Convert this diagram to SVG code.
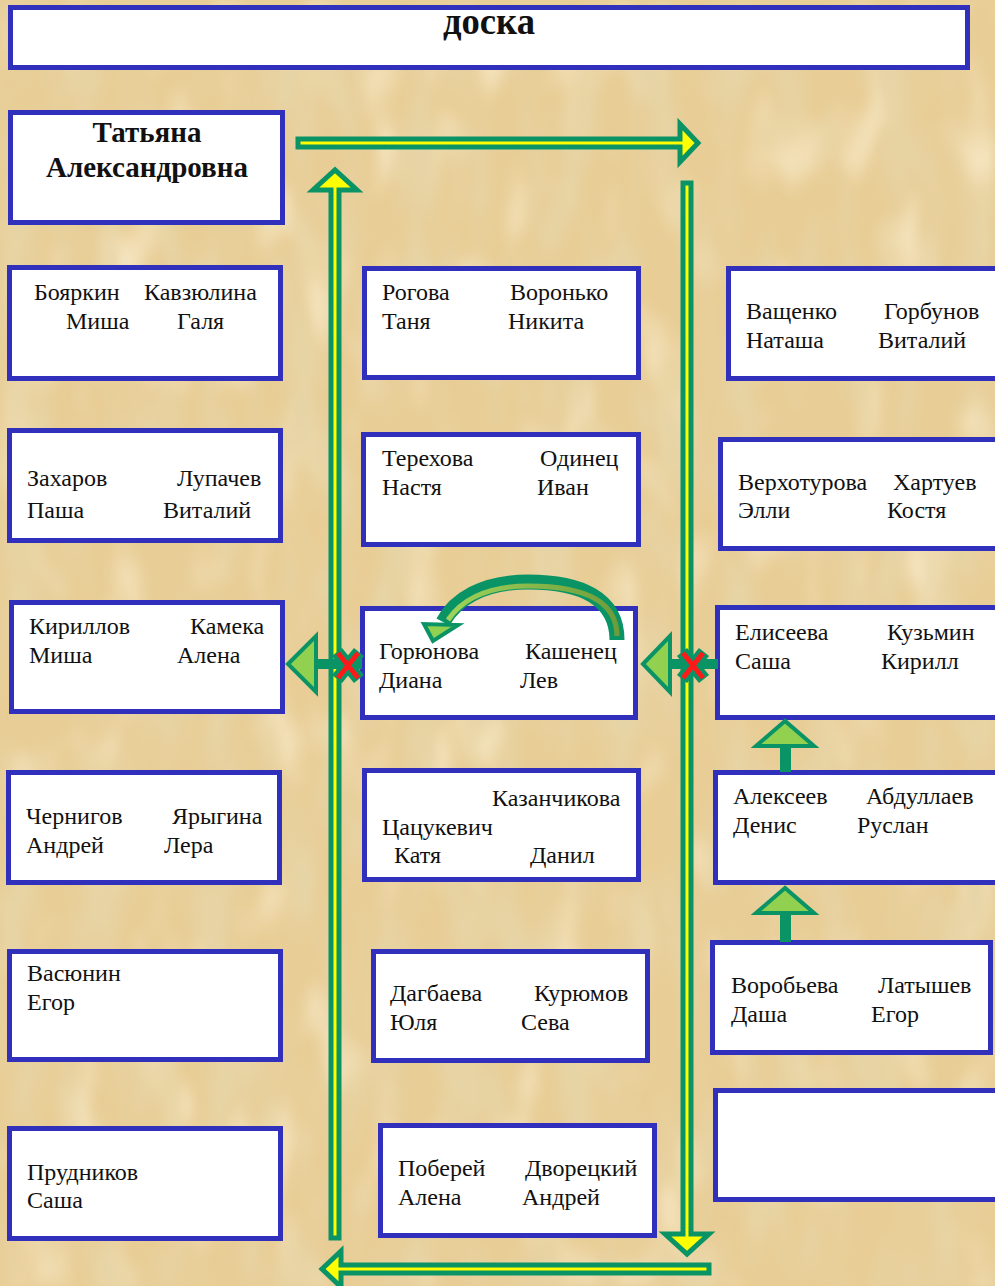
<svg xmlns="http://www.w3.org/2000/svg" width="995" height="1286" viewBox="0 0 995 1286">
  <defs>
    <style>
      .box { fill: #ffffff; stroke: #3030bd; stroke-width: 5; }
      .t { font-family: "Liberation Serif", "Times New Roman", serif; font-size: 24px; fill: #111111; }
      .tb { font-family: "Liberation Serif", "Times New Roman", serif; font-weight: bold; fill: #111111; text-anchor: middle; }
      .flow { fill: #ffff00; stroke: #0a9466; stroke-width: 5; stroke-linejoin: miter; }
      .blk { fill: #92d050; stroke: #0a9466; stroke-width: 4; stroke-linejoin: miter; }
      .stem { fill: #0a9466; }
      .xo { stroke: #0a9466; stroke-width: 13; stroke-linecap: butt; }
      .xr { stroke: #ff1a1a; stroke-width: 5; stroke-linecap: butt; }
    </style>
    <!-- parchment texture: darker blotches and lighter streaks -->
    <filter id="parchDark" x="0" y="0" width="100%" height="100%">
      <feTurbulence type="fractalNoise" baseFrequency="0.025 0.008" numOctaves="3" seed="7" result="n"/>
      <feColorMatrix in="n" type="matrix" values="0 0 0 0 0.80  0 0 0 0 0.66  0 0 0 0 0.38  3 0 0 0 -1.3"/>
      <feGaussianBlur stdDeviation="4"/>
    </filter>
    <filter id="parchLight" x="0" y="0" width="100%" height="100%">
      <feTurbulence type="fractalNoise" baseFrequency="0.02 0.01" numOctaves="2" seed="21" result="n"/>
      <feColorMatrix in="n" type="matrix" values="0 0 0 0 0.96  0 0 0 0 0.86  0 0 0 0 0.64  2.5 0 0 0 -1.35"/>
      <feGaussianBlur stdDeviation="5"/>
    </filter>
    <linearGradient id="curveFill" x1="0" y1="0" x2="1" y2="0">
      <stop offset="0" stop-color="#9fd35a"/>
      <stop offset="1" stop-color="#6f9c3a"/>
    </linearGradient>
  </defs>

  <!-- background -->
  <rect x="0" y="0" width="995" height="1286" fill="#e8cd96"/>
  <rect x="0" y="0" width="995" height="1286" filter="url(#parchLight)"/>
  <rect x="0" y="0" width="995" height="1286" filter="url(#parchDark)"/>

  <!-- board -->
  <g id="board">
    <rect class="box" x="10.5" y="7.5" width="957" height="60"/>
    <text class="tb" x="489" y="34" font-size="38" textLength="92" lengthAdjust="spacingAndGlyphs">доска</text>
  </g>

  <!-- teacher -->
  <g id="teacher">
    <rect class="box" x="10.5" y="112.5" width="272" height="110"/>
    <text class="tb" x="147" y="142" font-size="29">Татьяна</text>
    <text class="tb" x="147" y="177" font-size="29">Александровна</text>
  </g>

  <!-- desks, left column -->
  <g id="desk-l1">
    <rect class="box" x="9.5" y="267.5" width="271" height="111"/>
    <text class="t" x="34" y="300">Бояркин</text><text class="t" x="144" y="300">Кавзюлина</text>
    <text class="t" x="66" y="329">Миша</text><text class="t" x="177" y="329">Галя</text>
  </g>
  <g id="desk-l2">
    <rect class="box" x="9.5" y="430.5" width="271" height="110"/>
    <text class="t" x="27" y="486">Захаров</text><text class="t" x="177" y="486">Лупачев</text>
    <text class="t" x="27" y="518">Паша</text><text class="t" x="163" y="518">Виталий</text>
  </g>
  <g id="desk-l3">
    <rect class="box" x="11.5" y="602.5" width="271" height="109"/>
    <text class="t" x="29" y="634">Кириллов</text><text class="t" x="190" y="634">Камека</text>
    <text class="t" x="29" y="663">Миша</text><text class="t" x="177" y="663">Алена</text>
  </g>
  <g id="desk-l4">
    <rect class="box" x="8.5" y="772.5" width="271" height="110"/>
    <text class="t" x="26" y="824">Чернигов</text><text class="t" x="172" y="824">Ярыгина</text>
    <text class="t" x="26" y="853">Андрей</text><text class="t" x="164" y="853">Лера</text>
  </g>
  <g id="desk-l5">
    <rect class="box" x="9.5" y="951.5" width="271" height="108"/>
    <text class="t" x="27" y="981">Васюнин</text>
    <text class="t" x="27" y="1010">Егор</text>
  </g>
  <g id="desk-l6">
    <rect class="box" x="9.5" y="1128.5" width="271" height="110"/>
    <text class="t" x="27" y="1180">Прудников</text>
    <text class="t" x="27" y="1208">Саша</text>
  </g>

  <!-- desks, middle column -->
  <g id="desk-m1">
    <rect class="box" x="364.5" y="268.5" width="274" height="109"/>
    <text class="t" x="382" y="300">Рогова</text><text class="t" x="510" y="300">Воронько</text>
    <text class="t" x="382" y="329">Таня</text><text class="t" x="508" y="329">Никита</text>
  </g>
  <g id="desk-m2">
    <rect class="box" x="363.5" y="434.5" width="275" height="110"/>
    <text class="t" x="382" y="466">Терехова</text><text class="t" x="540" y="466">Одинец</text>
    <text class="t" x="382" y="495">Настя</text><text class="t" x="537" y="495">Иван</text>
  </g>
  <g id="desk-m3">
    <rect class="box" x="362.5" y="608.5" width="273" height="109"/>
    <text class="t" x="379" y="659">Горюнова</text><text class="t" x="525" y="659">Кашенец</text>
    <text class="t" x="379" y="688">Диана</text><text class="t" x="520" y="688">Лев</text>
  </g>
  <g id="desk-m4">
    <rect class="box" x="364.5" y="770.5" width="274" height="109"/>
    <text class="t" x="492" y="806">Казанчикова</text>
    <text class="t" x="382" y="835">Цацукевич</text>
    <text class="t" x="394" y="863">Катя</text><text class="t" x="530" y="863">Данил</text>
  </g>
  <g id="desk-m5">
    <rect class="box" x="373.5" y="951.5" width="274" height="109"/>
    <text class="t" x="390" y="1001">Дагбаева</text><text class="t" x="534" y="1001">Курюмов</text>
    <text class="t" x="390" y="1030">Юля</text><text class="t" x="521" y="1030">Сева</text>
  </g>
  <g id="desk-m6">
    <rect class="box" x="380.5" y="1125.5" width="274" height="110"/>
    <text class="t" x="398" y="1176">Поберей</text><text class="t" x="525" y="1176">Дворецкий</text>
    <text class="t" x="398" y="1205">Алена</text><text class="t" x="522" y="1205">Андрей</text>
  </g>

  <!-- desks, right column -->
  <g id="desk-r1">
    <rect class="box" x="728.5" y="268.5" width="272" height="110"/>
    <text class="t" x="746" y="319">Ващенко</text><text class="t" x="884" y="319">Горбунов</text>
    <text class="t" x="746" y="348">Наташа</text><text class="t" x="878" y="348">Виталий</text>
  </g>
  <g id="desk-r2">
    <rect class="box" x="720.5" y="439.5" width="280" height="109"/>
    <text class="t" x="738" y="490">Верхотурова</text><text class="t" x="893" y="490">Хартуев</text>
    <text class="t" x="738" y="518">Элли</text><text class="t" x="887" y="518">Костя</text>
  </g>
  <g id="desk-r3">
    <rect class="box" x="717.5" y="607.5" width="283" height="110"/>
    <text class="t" x="735" y="640">Елисеева</text><text class="t" x="887" y="640">Кузьмин</text>
    <text class="t" x="735" y="669">Саша</text><text class="t" x="881" y="669">Кирилл</text>
  </g>
  <g id="desk-r4">
    <rect class="box" x="715.5" y="772.5" width="285" height="110"/>
    <text class="t" x="733" y="804">Алексеев</text><text class="t" x="866" y="804">Абдуллаев</text>
    <text class="t" x="733" y="833">Денис</text><text class="t" x="857" y="833">Руслан</text>
  </g>
  <g id="desk-r5">
    <rect class="box" x="712.5" y="942.5" width="278" height="110"/>
    <text class="t" x="731" y="993">Воробьева</text><text class="t" x="878" y="993">Латышев</text>
    <text class="t" x="731" y="1022">Даша</text><text class="t" x="871" y="1022">Егор</text>
  </g>
  <g id="desk-r6">
    <rect class="box" x="715.5" y="1090.5" width="285" height="109"/>
  </g>

  <!-- connectors -->
  <g id="connectors">
    <!-- walking route -->
    <polygon class="flow" points="298,139 680,139 680,124 698,143 680,162 680,147 298,147"/>
    <polygon class="flow" points="683,183 691,183 691,1234 709,1234 687,1254 665,1234 683,1234"/>
    <polygon class="flow" points="709,1265 341,1265 341,1251 322,1269 341,1287 341,1273 709,1273"/>
    <polygon class="flow" points="331,1238 331,190 313,190 335,170 357,190 339,190 339,1238"/>

    <!-- blocked passages -->
    <rect class="stem" x="314" y="659" width="48" height="10"/>
    <polygon class="blk" points="288,664 316,636 316,692"/>
    <rect class="stem" x="668" y="659" width="50" height="10"/>
    <polygon class="blk" points="643,664 670,636 670,692"/>
    <g>
      <line class="xo" x1="337" y1="652" x2="359" y2="679"/>
      <line class="xo" x1="359" y1="652" x2="337" y2="679"/>
      <line class="xr" x1="338" y1="653" x2="358" y2="678"/>
      <line class="xr" x1="358" y1="653" x2="338" y2="678"/>
    </g>
    <g>
      <line class="xo" x1="682" y1="652" x2="704" y2="679"/>
      <line class="xo" x1="704" y1="652" x2="682" y2="679"/>
      <line class="xr" x1="683" y1="653" x2="703" y2="678"/>
      <line class="xr" x1="703" y1="653" x2="683" y2="678"/>
    </g>

    <!-- moves forward in right column -->
    <rect class="stem" x="780" y="744" width="11" height="28"/>
    <polygon class="blk" points="785,721 756,746 814,746"/>
    <rect class="stem" x="780" y="911" width="11" height="31"/>
    <polygon class="blk" points="785,888 756,913 814,913"/>

    <!-- seat swap -->
    <path d="M617,640 C617,598 580,582 528,582 C482,582 455,600 443,622" fill="none" stroke="#0a9466" stroke-width="15"/>
    <path d="M617,636 C617,600 582,586 528,586 C484,586 460,602 448,620" fill="none" stroke="url(#curveFill)" stroke-width="5"/>
    <polygon points="433,641 424,624 458,625" fill="#92d050" stroke="#0a9466" stroke-width="4" stroke-linejoin="miter"/>
  </g>
</svg>
